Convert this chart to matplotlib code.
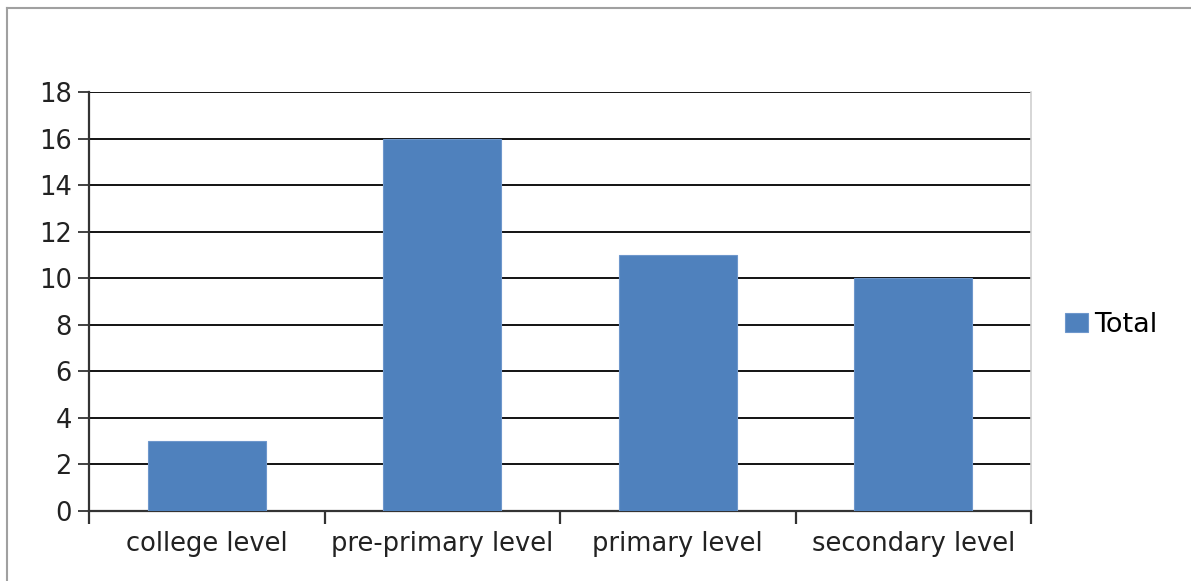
import matplotlib
matplotlib.use("Agg")
import matplotlib.pyplot as plt
from matplotlib.lines import Line2D
import numpy as np

categories = ["college level", "pre-primary level", "primary level", "secondary level"]
values = [3, 16, 11, 10]
series_name = "Total"
yticks = [0, 2, 4, 6, 8, 10, 12, 14, 16, 18]

plt.rcParams['font.family'] = ['DejaVu Sans']

W, H = 1191, 581
fig = plt.figure(figsize=(W / 100, H / 100), dpi=100)
ax = fig.add_axes([89 / W, 1 - 511 / H, (1031 - 89) / W, (511 - 92) / H])

x = np.arange(len(categories))
ax.bar(x, values, width=0.5, color="#4F81BD", edgecolor="#6E97CC", linewidth=0.8,
       label=series_name, zorder=3)

ax.set_xlim(-0.5, len(categories) - 0.5)
ax.set_ylim(0, 18)
ax.set_yticks(yticks)
ax.set_yticklabels([str(v) for v in yticks], fontsize=18.5, color="#222222")
ax.yaxis.grid(True, color="black", linewidth=1.3, zorder=0)
ax.set_axisbelow(True)

ax.set_xticks(x)
ax.set_xticklabels(categories, fontsize=18.5, color="#222222")
ax.tick_params(axis='x', which='major', length=0, pad=14.5)
ax.set_xticks(np.arange(len(categories) + 1) - 0.5, minor=True)
ax.tick_params(axis='x', which='minor', length=9, width=1.6, color="#333333", direction='out')
ax.tick_params(axis='y', length=8, width=1.3, color="#333333", direction='out', pad=4.5)

ax.spines['top'].set_visible(False)
ax.spines['right'].set_color("#d0d0d0")
ax.spines['right'].set_linewidth(1.2)
ax.spines['left'].set_color("#333333")
ax.spines['left'].set_linewidth(1.6)
ax.spines['bottom'].set_color("#333333")
ax.spines['bottom'].set_linewidth(1.6)

handles, labels = ax.get_legend_handles_labels()
leg = fig.legend(handles, labels, loc='center left', bbox_to_anchor=(1054 / W, 1 - 325 / H),
                 frameon=False, fontsize=19.5, handlelength=0.85, handleheight=0.75,
                 handletextpad=0.25, borderaxespad=0)

fig.add_artist(Line2D([7 / W, 1], [1 - 8 / H, 1 - 8 / H], color="#a0a0a0", linewidth=1.5,
                      transform=fig.transFigure))
fig.add_artist(Line2D([7 / W, 7 / W], [0, 1 - 8 / H], color="#a0a0a0", linewidth=1.5,
                      transform=fig.transFigure))

fig.savefig("out.png", dpi=100)
